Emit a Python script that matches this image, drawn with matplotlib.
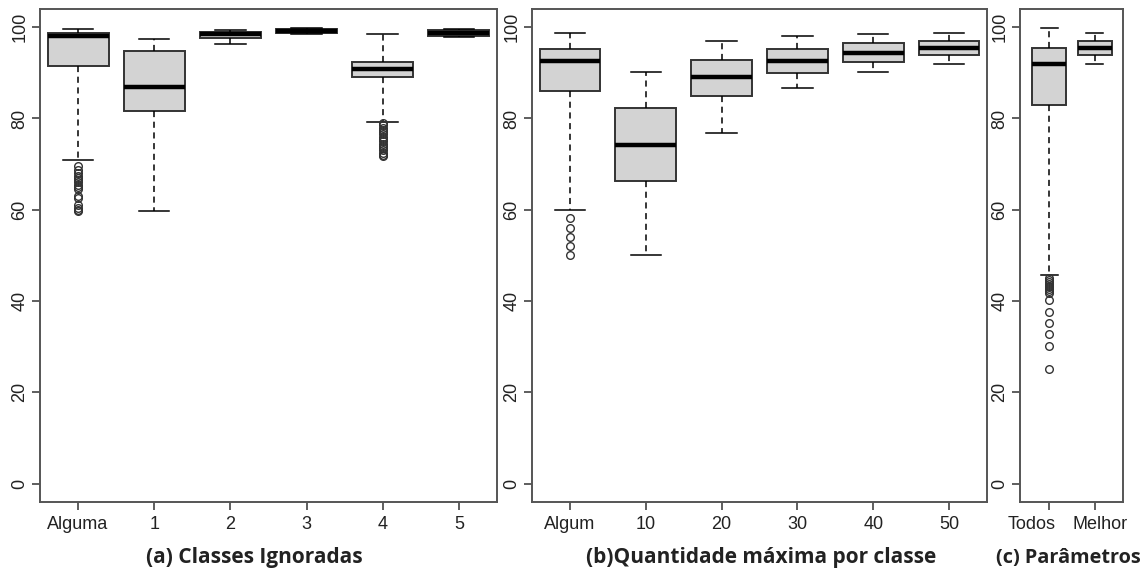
import numpy as np
import matplotlib.pyplot as plt
from matplotlib.transforms import ScaledTranslation

# (a) Classes Ignoradas
a_labels = ['Alguma', '1', '2', '3', '4', '5']
a_whislo = [70.8, 59.8, 96.3, 98.5, 79.3, 97.9]
a_q1 = [91.6, 81.6, 97.6, 98.8, 89.1, 98.0]
a_med = [98.0, 87.0, 98.4, 99.2, 90.9, 98.8]
a_q3 = [98.8, 94.8, 98.9, 99.5, 92.4, 99.4]
a_whishi = [99.7, 97.4, 99.4, 99.8, 98.4, 99.6]
a_fliers = [
    [69.5, 68.8, 68.0, 67.5, 67.0, 66.5, 66.0, 65.5, 65.0, 64.5, 63.0, 62.5, 61.0, 60.5, 60.0, 59.7],
    [], [], [],
    [79.0, 78.5, 78.0, 77.5, 77.0, 76.5, 76.0, 75.5, 75.0, 74.5, 74.0, 73.5, 73.0, 72.5, 72.0, 71.7],
    [],
]

# (b) Quantidade maxima por classe
b_labels = ['Algum', '10', '20', '30', '40', '50']
b_whislo = [60.0, 50.2, 76.9, 86.7, 90.1, 91.9]
b_q1 = [86.0, 66.2, 84.9, 90.0, 92.4, 94.0]
b_med = [92.7, 74.1, 89.1, 92.7, 94.4, 95.5]
b_q3 = [95.3, 82.2, 92.9, 95.3, 96.6, 97.0]
b_whishi = [98.8, 90.2, 97.0, 98.1, 98.4, 98.8]
b_fliers = [[58.2, 56.1, 54.1, 52.0, 50.1], [], [], [], [], []]

# (c) Parametros
c_labels = ['Todos', 'Melhor']
c_whislo = [45.7, 91.9]
c_q1 = [82.9, 94.0]
c_med = [91.9, 95.5]
c_q3 = [95.5, 97.0]
c_whishi = [99.8, 98.8]
c_fliers = [[45.0, 44.6, 44.2, 43.8, 43.4, 43.0, 42.6, 42.2, 41.8, 40.2, 37.6, 35.1, 32.7, 30.2, 25.2], []]

titles = ['(a) Classes Ignoradas', '(b)Quantidade máxima por classe', '(c) Parâmetros']

fig = plt.figure(figsize=(11.48, 5.72), dpi=100)

tick_font = 'Liberation Sans'
edge = '#333333'


def draw_panel(rect, labels, whislo, q1, med, q3, whishi, fliers, xlim, width):
    ax = fig.add_axes(rect)
    stats = []
    for i in range(len(labels)):
        stats.append(dict(label=labels[i], whislo=whislo[i], q1=q1[i], med=med[i],
                          q3=q3[i], whishi=whishi[i], fliers=np.array(fliers[i])))
    ax.bxp(stats, widths=width, capwidths=width / 2, patch_artist=True,
           boxprops=dict(facecolor='#d3d3d3', edgecolor=edge, linewidth=1.4),
           medianprops=dict(color='black', linewidth=3.2, solid_capstyle='butt'),
           whiskerprops=dict(color='black', linewidth=1.1, linestyle=(0, (4, 3))),
           capprops=dict(color='black', linewidth=1.1),
           flierprops=dict(marker='o', markerfacecolor='none', markeredgecolor=edge,
                           markersize=5.5, markeredgewidth=1.0))
    ax.set_xlim(*xlim)
    ax.set_ylim(-4, 104)
    ax.set_yticks([0, 20, 40, 60, 80, 100])
    ax.set_yticklabels(['0', '20', '40', '60', '80', '100'], rotation=90, va='center',
                       family=tick_font, fontsize=13, color='#222222')
    ax.set_xticklabels(labels, family=tick_font, fontsize=13, color='#222222')
    ax.tick_params(axis='both', length=5.8, width=1.1, color='#333333')
    ax.tick_params(axis='x', pad=4.5)
    ax.tick_params(axis='y', pad=2.5)
    for s in ax.spines.values():
        s.set_color('#555555')
        s.set_linewidth(1.4)
    return ax


draw_panel([0.0348, 0.1224, 0.3981, 0.862], a_labels, a_whislo, a_q1, a_med, a_q3,
           a_whishi, a_fliers, (0.5, 6.5), 0.8)
draw_panel([0.4634, 0.1224, 0.3963, 0.862], b_labels, b_whislo, b_q1, b_med, b_q3,
           b_whishi, b_fliers, (0.5, 6.5), 0.8)
ax_c = draw_panel([0.8885, 0.1224, 0.0897, 0.862], c_labels, c_whislo, c_q1, c_med, c_q3,
                  c_whishi, c_fliers, (0.35, 2.62), 0.75)

# labels in panel (c) sit off-centre so they do not collide
shifts = [-18, 5]
for lab, dx in zip(ax_c.get_xticklabels(), shifts):
    lab.set_transform(lab.get_transform() + ScaledTranslation(dx / 100, 0, fig.dpi_scale_trans))

title_x = [254 / 1148, 761 / 1148, 1068 / 1148]
title_size = [15, 15, 14.3]
for tx, t, fs in zip(title_x, titles, title_size):
    fig.text(tx, 1 - 558 / 572, t, ha='center', va='center', family='Open Sans',
             fontweight='bold', fontsize=fs, color='#222222')

fig.savefig('out.png', dpi=100)
